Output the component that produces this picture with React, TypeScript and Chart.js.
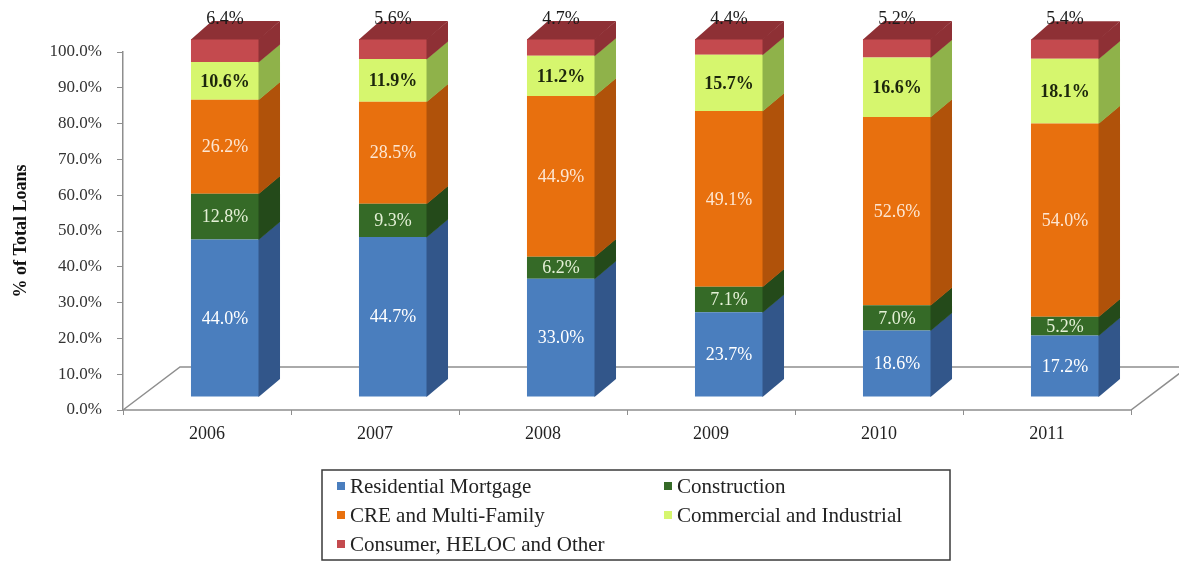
import React, { useEffect, useRef } from 'react';
import { Chart, registerables } from 'chart.js';

Chart.register(...registerables);

// ---------- data ----------
const years = ['2006', '2007', '2008', '2009', '2010', '2011'];
const residentialMortgage = [44.0, 44.7, 33.0, 23.7, 18.6, 17.2];
const construction = [12.8, 9.3, 6.2, 7.1, 7.0, 5.2];
const creMultiFamily = [26.2, 28.5, 44.9, 49.1, 52.6, 54.0];
const commercialIndustrial = [10.6, 11.9, 11.2, 15.7, 16.6, 18.1];
const consumerHelocOther = [6.4, 5.6, 4.7, 4.4, 5.2, 5.4];
const yTickLabels = ['0.0%', '10.0%', '20.0%', '30.0%', '40.0%', '50.0%', '60.0%', '70.0%', '80.0%', '90.0%', '100.0%'];
const seriesNames = ['Residential Mortgage', 'Construction', 'CRE and Multi-Family', 'Commercial and Industrial', 'Consumer, HELOC and Other'];
const yAxisTitle = '% of Total Loans';

// ---------- styles ----------
const FONT = "'Liberation Serif', 'DejaVu Serif', serif";
const frontColors = ['#4a7ebe', '#356a27', '#e8700e', '#d6f66e', '#c44a4e'];
const sideColors = ['#32568a', '#244a1a', '#b0520a', '#8fb24a', '#8e3035'];
const labelColors = ['#ffffff', '#e4f0d6', '#fde6d2', '#1c260c', '#1a1a1a'];
const labelBold = [false, false, false, true, false];

const FLOOR_DX = 57;
const FLOOR_DY = -43;
const BAR_SHIFT_X = 18;
const BAR_SHIFT_Y = -13;
const DEPTH_DX = 21;
const DEPTH_DY = -18;

const threeDPlugin = {
  id: 'threeD',
  beforeDatasetsDraw(chart: any) {
    const { ctx, chartArea } = chart;
    const { left, right, bottom } = chartArea;
    ctx.save();
    ctx.strokeStyle = '#8e8e8e';
    ctx.lineWidth = 1.5;
    ctx.beginPath();
    ctx.moveTo(left, bottom);
    ctx.lineTo(left + FLOOR_DX, bottom + FLOOR_DY);
    ctx.lineTo(right + FLOOR_DX, bottom + FLOOR_DY);
    ctx.lineTo(right, bottom);
    ctx.closePath();
    ctx.stroke();
    ctx.restore();
    ctx.save();
    ctx.translate(BAR_SHIFT_X, BAR_SHIFT_Y);
  },
  afterDatasetsDraw(chart: any) {
    const { ctx } = chart;
    const n = chart.data.datasets.length;
    // side faces and top face
    for (let i = 0; i < n; i++) {
      const meta = chart.getDatasetMeta(i);
      meta.data.forEach((el: any) => {
        const { x, y, base, width } = el.getProps(['x', 'y', 'base', 'width'], true);
        const r = x + width / 2;
        const l = x - width / 2;
        const top = Math.min(y, base);
        const bot = Math.max(y, base);
        ctx.fillStyle = sideColors[i];
        ctx.beginPath();
        ctx.moveTo(r - 0.5, top);
        ctx.lineTo(r + DEPTH_DX, top + DEPTH_DY);
        ctx.lineTo(r + DEPTH_DX, bot + DEPTH_DY + 0.5);
        ctx.lineTo(r - 0.5, bot + 0.5);
        ctx.closePath();
        ctx.fill();
        if (i === n - 1) {
          ctx.fillStyle = sideColors[i];
          ctx.beginPath();
          ctx.moveTo(l, top + 0.5);
          ctx.lineTo(l + DEPTH_DX, top + DEPTH_DY);
          ctx.lineTo(r + DEPTH_DX, top + DEPTH_DY);
          ctx.lineTo(r, top + 0.5);
          ctx.closePath();
          ctx.fill();
        }
      });
    }
    // value labels
    ctx.textAlign = 'center';
    ctx.textBaseline = 'middle';
    for (let i = 0; i < n; i++) {
      const meta = chart.getDatasetMeta(i);
      const values = chart.data.datasets[i].data;
      meta.data.forEach((el: any, j: number) => {
        const { x, y, base } = el.getProps(['x', 'y', 'base'], true);
        const txt = Number(values[j]).toFixed(1) + '%';
        ctx.font = `${labelBold[i] ? 'bold ' : ''}18px ${FONT}`;
        ctx.fillStyle = labelColors[i];
        if (i === n - 1) {
          ctx.fillText(txt, x, Math.min(y, base) + DEPTH_DY - 2);
        } else {
          ctx.fillText(txt, x, (y + base) / 2 + 1);
        }
      });
    }
    ctx.restore();
  },
};

const legendPlugin = {
  id: 'boxLegend',
  afterDraw(chart: any) {
    const { ctx } = chart;
    const boxL = 322, boxT = 470, boxR = 950, boxB = 560;
    ctx.save();
    ctx.strokeStyle = '#3a3a3a';
    ctx.lineWidth = 1.5;
    ctx.strokeRect(boxL, boxT, boxR - boxL, boxB - boxT);
    const colX = [337, 664];
    const rowY = [486, 515, 544];
    ctx.font = `21px ${FONT}`;
    ctx.textAlign = 'left';
    ctx.textBaseline = 'middle';
    chart.data.datasets.forEach((ds: any, i: number) => {
      const cx = colX[i % 2];
      const cy = rowY[Math.floor(i / 2)];
      ctx.fillStyle = ds.backgroundColor;
      ctx.fillRect(cx, cy - 4, 8, 8);
      ctx.fillStyle = '#222';
      ctx.fillText(ds.label, cx + 13, cy + 1);
    });
    ctx.restore();
  },
};

export default function App() {
  const canvasRef = useRef<HTMLCanvasElement | null>(null);

  useEffect(() => {
    document.body.style.margin = '0';
    const canvas = canvasRef.current;
    if (!canvas) return;
    const seriesData = [residentialMortgage, construction, creMultiFamily, commercialIndustrial, consumerHelocOther];
    const chart = new Chart(canvas, {
      type: 'bar',
      data: {
        labels: years,
        datasets: seriesData.map((d, i) => ({
          label: seriesNames[i],
          data: d,
          backgroundColor: frontColors[i],
          borderWidth: 0,
          categoryPercentage: 1,
          barPercentage: 0.405,
          clip: false as any,
        })),
      },
      options: {
        animation: false,
        responsive: false,
        devicePixelRatio: 1,
        layout: { padding: { top: 52, left: 0, right: 48, bottom: 113 } },
        plugins: {
          legend: { display: false },
          tooltip: { enabled: false },
        },
        scales: {
          x: {
            stacked: true,
            grid: { display: true, drawOnChartArea: false, drawTicks: true, tickLength: 5, color: '#8e8e8e', offset: true },
            border: { display: false },
            ticks: { font: { family: FONT, size: 18 }, color: '#222', padding: 8 },
            afterFit: (s: any) => { s.height = 40; },
          },
          y: {
            stacked: true,
            min: 0,
            max: 100,
            ticks: {
              stepSize: 10,
              font: { family: FONT, size: 17 },
              color: '#333',
              padding: 15,
              callback: (_v: any, idx: number) => yTickLabels[idx],
            },
            grid: { display: true, drawOnChartArea: false, drawTicks: true, tickLength: 6, color: '#8e8e8e' },
            border: { display: true, color: '#8e8e8e', width: 1.5 },
            title: {
              display: true,
              text: yAxisTitle,
              font: { family: FONT, size: 18, weight: 'bold' },
              color: '#111',
              padding: { top: 11, bottom: 0 },
            },
            afterFit: (s: any) => { s.width = 123; },
          },
        },
      },
      plugins: [threeDPlugin, legendPlugin],
    });
    return () => chart.destroy();
  }, []);

  return (
    <div style={{ width: 1179, height: 563, background: '#fff', position: 'relative' }}>
      <canvas ref={canvasRef} width={1179} height={563} style={{ display: 'block', width: 1179, height: 563 }} />
    </div>
  );
}
